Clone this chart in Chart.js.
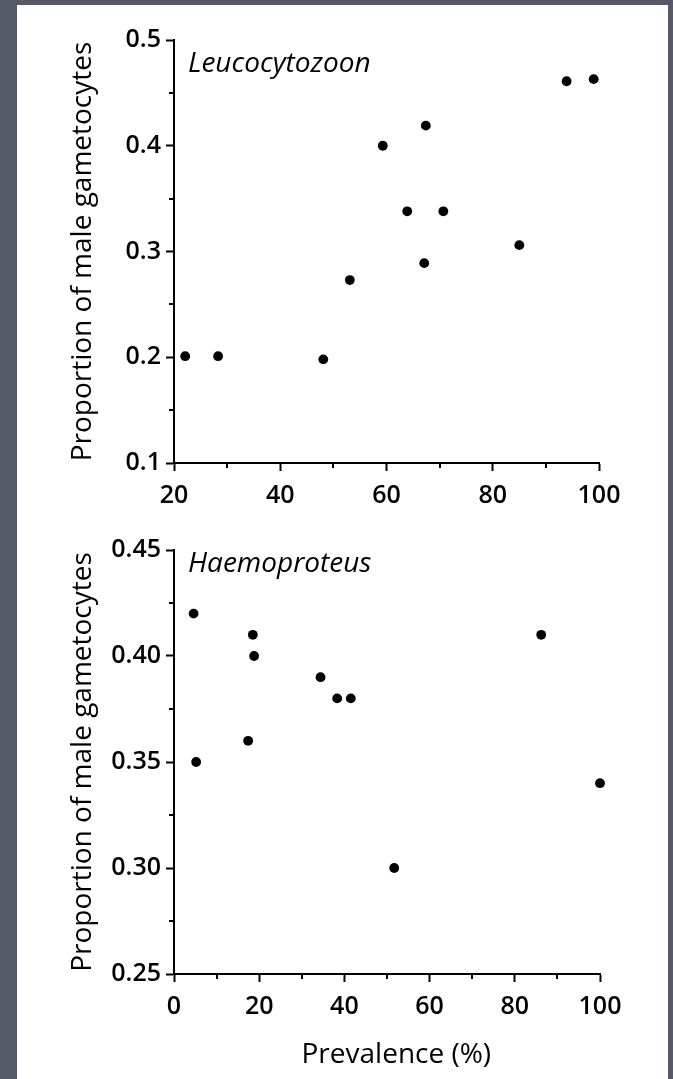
<!DOCTYPE html>
<html>
<head>
<meta charset="utf-8">
<script src="https://cdn.jsdelivr.net/npm/chart.js"></script>
<style>
html,body{margin:0;padding:0;background:#555866;width:673px;height:1079px;overflow:hidden}
#paper{position:absolute;left:17px;top:5px;width:651px;height:1074px;background:#fff}
canvas{position:absolute;left:0}
#c1{top:0}
#c2{top:530px}
</style>
</head>
<body>
<div id="paper"></div>
<canvas id="c1" width="673" height="530"></canvas>
<canvas id="c2" width="673" height="549"></canvas>
<script>
// Leucocytozoon panel
const leucoPrevalence = [22.1, 28.3, 48.1, 53.1, 59.3, 67.4, 63.9, 70.7, 67.1, 85.0, 93.9, 99.0]
const leucoMaleProp = [0.201, 0.201, 0.198, 0.273, 0.400, 0.419, 0.338, 0.338, 0.289, 0.306, 0.461, 0.463]
// Haemoproteus panel
const haemoPrevalence = [4.6, 5.2, 18.5, 18.8, 17.4, 34.4, 38.3, 41.5, 51.7, 86.2, 100]
const haemoMaleProp = [0.42, 0.35, 0.41, 0.40, 0.36, 0.39, 0.38, 0.38, 0.30, 0.41, 0.34]

const leucoXTicks = [20, 40, 60, 80, 100]
const leucoXLabels = ['20', '40', '60', '80', '100']
const leucoXMinor = [30, 50, 70, 90]
const leucoYTicks = [0.1, 0.2, 0.3, 0.4, 0.5]
const leucoYLabels = ['0.1', '0.2', '0.3', '0.4', '0.5']
const leucoYMinor = [0.15, 0.25, 0.35, 0.45]

const haemoXTicks = [0, 20, 40, 60, 80, 100]
const haemoXLabels = ['0', '20', '40', '60', '80', '100']
const haemoXMinor = [10, 30, 50, 70, 90]
const haemoYTicks = [0.25, 0.30, 0.35, 0.40, 0.45]
const haemoYLabels = ['0.25', '0.30', '0.35', '0.40', '0.45']
const haemoYMinor = [0.275, 0.325, 0.375, 0.425]

const yTitle = 'Proportion of male gametocytes'
const xTitle = '\u2002\u2009Prevalence (%)'

const tickFont = {family: "'Open Sans', sans-serif", size: 25, weight: '600'}
const titleFont = {family: "'Open Sans', sans-serif", size: 28, weight: '500'}

// short unlabelled ticks between the labelled ones
const minorTicks = {
  id: 'minorTicks',
  afterDraw(chart, args, opts){
    const ctx = chart.ctx, a = chart.chartArea
    ctx.save()
    ctx.strokeStyle = '#000'
    ctx.lineWidth = 2
    ctx.beginPath()
    for(const v of opts.x || []){
      const px = Math.round(chart.scales.x.getPixelForValue(v))
      ctx.moveTo(px, a.bottom); ctx.lineTo(px, a.bottom + 5)
    }
    for(const v of opts.y || []){
      const py = Math.round(chart.scales.y.getPixelForValue(v))
      ctx.moveTo(a.left, py); ctx.lineTo(a.left - 5, py)
    }
    ctx.stroke()
    ctx.restore()
  }
}

// italic genus name inside the plot
const panelLabel = {
  id: 'panelLabel',
  afterDraw(chart, args, opts){
    const ctx = chart.ctx, a = chart.chartArea
    ctx.save()
    ctx.fillStyle = '#000'
    ctx.font = "italic 500 28px 'Open Sans', sans-serif"
    ctx.textBaseline = 'alphabetic'
    ctx.fillText(opts.text, a.left + opts.dx, a.top + opts.dy)
    ctx.restore()
  }
}

function makeChart(id, p){
  return new Chart(document.getElementById(id), {
    type: 'scatter',
    data: {
      datasets: [{
        data: p.xs.map((x, i)=>({x: x, y: p.ys[i]})),
        backgroundColor: '#000',
        borderColor: '#000',
        borderWidth: 0,
        pointRadius: 4.9,
        pointHoverRadius: 4.9,
        clip: false
      }]
    },
    options: {
      responsive: false,
      animation: false,
      devicePixelRatio: 1,
      layout: {padding: {top: p.top, right: p.right, bottom: 0, left: 0}},
      plugins: {
        legend: {display: false},
        tooltip: {enabled: false},
        minorTicks: {x: p.xMinor, y: p.yMinor},
        panelLabel: {text: p.label, dx: 14, dy: p.labelDy}
      },
      scales: {
        x: {
          type: 'linear',
          min: p.xTicks[0],
          max: p.xTicks[p.xTicks.length - 1],
          afterBuildTicks: s=>{ s.ticks = p.xTicks.map(v=>({value: v})) },
          afterFit: s=>{ s.height = p.xHeight },
          grid: {drawOnChartArea: false, tickLength: 8, tickWidth: 2, tickColor: '#000'},
          border: {color: '#000', width: 2},
          ticks: {color: '#000', font: tickFont, padding: 10, maxRotation: 0, autoSkip: false, callback: (v, i)=>p.xLabels[i]},
          title: {display: !!p.xTitle, text: p.xTitle || '', color: '#000', font: titleFont, padding: {top: 0, bottom: 7}}
        },
        y: {
          type: 'linear',
          min: p.yTicks[0],
          max: p.yTicks[p.yTicks.length - 1],
          afterBuildTicks: s=>{ s.ticks = p.yTicks.map(v=>({value: v})) },
          afterFit: s=>{ s.width = 174 },
          grid: {drawOnChartArea: false, tickLength: 8, tickWidth: 2, tickColor: '#000'},
          border: {color: '#000', width: 2},
          ticks: {color: '#000', font: tickFont, padding: 5, autoSkip: false, callback: (v, i)=>p.yLabels[i]},
          title: {display: true, text: yTitle, color: '#000', font: titleFont, padding: {top: 66, bottom: 0}}
        }
      }
    },
    plugins: [minorTicks, panelLabel]
  })
}

makeChart('c1', {
  xs: leucoPrevalence, ys: leucoMaleProp,
  xTicks: leucoXTicks, xLabels: leucoXLabels, xMinor: leucoXMinor,
  yTicks: leucoYTicks, yLabels: leucoYLabels, yMinor: leucoYMinor,
  label: 'Leucocytozoon', labelDy: 32,
  top: 40, right: 74, xHeight: 67
})

makeChart('c2', {
  xs: haemoPrevalence, ys: haemoMaleProp,
  xTicks: haemoXTicks, xLabels: haemoXLabels, xMinor: haemoXMinor,
  yTicks: haemoYTicks, yLabels: haemoYLabels, yMinor: haemoYMinor,
  label: 'Haemoproteus', labelDy: 22, xTitle: xTitle,
  top: 20, right: 73, xHeight: 105
})
</script>
</body>
</html>
